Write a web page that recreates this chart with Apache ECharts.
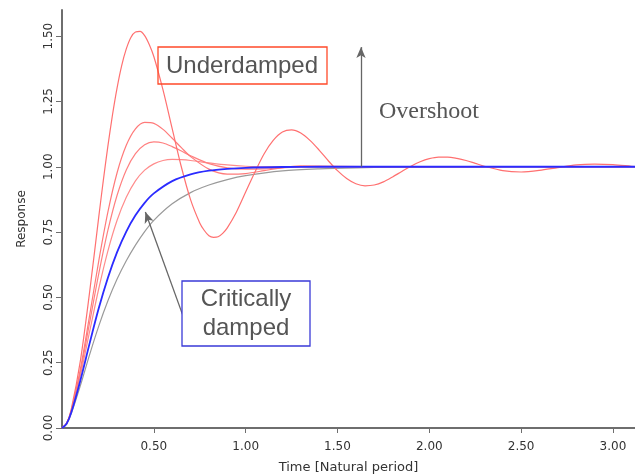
<!DOCTYPE html>
<html>
<head>
<meta charset="utf-8">
<title>Step response</title>
<script src="https://cdn.jsdelivr.net/npm/echarts@6.0.0/dist/echarts.min.js"></script>
<style>
  html, body { margin: 0; padding: 0; background: #fff; }
  #main { width: 635px; height: 474px; }
</style>
</head>
<body>
<div id="main"></div>
<script>
// time axis samples (natural periods)
var tA = [0, 0.025, 0.05, 0.10, 0.15, 0.20, 0.225, 0.25, 0.275, 0.30, 0.325, 0.35, 0.375, 0.40, 0.425, 0.45, 0.475, 0.50, 0.55, 0.60, 0.65, 0.70, 0.75, 0.775, 0.80, 0.825, 0.85, 0.875, 0.90, 0.95,
          1.00, 1.05, 1.10, 1.15, 1.20, 1.25, 1.30, 1.35, 1.40, 1.45, 1.50, 1.55, 1.60, 1.65, 1.70, 1.75, 1.80, 1.85, 1.90, 1.95,
          2.00, 2.05, 2.10, 2.15, 2.20, 2.25, 2.30, 2.40, 2.50, 2.60, 2.70, 2.80, 2.90, 3.00, 3.10, 3.12];
// most underdamped (big overshoot)
var under1 = [0, 0.018, 0.070, 0.257, 0.518, 0.807, 0.948, 1.080, 1.199, 1.302, 1.387, 1.451, 1.495, 1.516, 1.518, 1.502, 1.468, 1.422, 1.294, 1.146, 0.999, 0.874, 0.785, 0.756, 0.736, 0.730, 0.732, 0.745, 0.766, 0.827,
              0.903, 0.979, 1.049, 1.101, 1.133, 1.141, 1.129, 1.101, 1.064, 1.023, 0.985, 0.955, 0.935, 0.927, 0.930, 0.942, 0.961, 0.982, 1.002, 1.019,
              1.031, 1.037, 1.037, 1.032, 1.024, 1.013, 1.002, 0.985, 0.980, 0.986, 0.997, 1.007, 1.010, 1.008, 1.002, 1.001];

var tB = [0, 0.025, 0.05, 0.10, 0.15, 0.20, 0.25, 0.30, 0.35, 0.40, 0.45, 0.50, 0.55, 0.60, 0.65, 0.70, 0.80, 0.90, 1.00, 1.10, 1.20, 1.30, 1.50, 1.80, 2.20, 2.60, 3.00, 3.12];
var under2 = [0, 0.017, 0.065, 0.225, 0.429, 0.639, 0.827, 0.977, 1.082, 1.145, 1.170, 1.166, 1.143, 1.109, 1.073, 1.039, 0.991, 0.972, 0.974, 0.985, 0.997, 1.003, 1.002, 1.000, 1.000, 1.000, 1.000, 1.000];
var under3 = [0, 0.017, 0.064, 0.214, 0.402, 0.590, 0.757, 0.891, 0.988, 1.050, 1.084, 1.095, 1.091, 1.077, 1.060, 1.042, 1.012, 0.996, 0.991, 0.992, 0.996, 0.999, 1.000, 1.000, 1.000, 1.000, 1.000, 1.000];
var under4 = [0, 0.017, 0.062, 0.201, 0.368, 0.533, 0.678, 0.795, 0.883, 0.946, 0.987, 1.011, 1.024, 1.028, 1.027, 1.024, 1.015, 1.007, 1.002, 1.000, 1.000, 1.000, 1.000, 1.000, 1.000, 1.000, 1.000, 1.000];

var tC = [0, 0.025, 0.05, 0.10, 0.15, 0.20, 0.25, 0.30, 0.35, 0.40, 0.45, 0.50, 0.60, 0.70, 0.80, 0.90, 1.00, 1.20, 1.40, 1.60, 1.80, 2.00, 2.40, 2.80, 3.12];
var critical = [0, 0.016, 0.058, 0.182, 0.323, 0.458, 0.575, 0.673, 0.752, 0.814, 0.862, 0.898, 0.945, 0.971, 0.985, 0.992, 0.996, 0.999, 1.000, 1.000, 1.000, 1.000, 1.000, 1.000, 1.000];
var over = [0, 0.016, 0.054, 0.162, 0.280, 0.390, 0.487, 0.570, 0.640, 0.700, 0.752, 0.795, 0.858, 0.901, 0.930, 0.951, 0.966, 0.984, 0.992, 0.996, 0.998, 0.999, 1.000, 1.000, 1.000];

var xTicks = [0.5, 1.0, 1.5, 2.0, 2.5, 3.0];
var yTicks = [0, 0.25, 0.5, 0.75, 1.0, 1.25, 1.5];

// annotation arrows, in data units: [from, to]
var overshootArrow = [[1.628, 1.0], [1.628, 1.458]];
var criticalArrow = [[0.656, 0.435], [0.454, 0.827]];

function pairs(t, v) {
    return t.map(function (x, i) { return [x, v[i]]; });
}

var ec = echarts.init(document.getElementById('main'));
var axisCol = '#6e6e6e';
var lblFont = 'DejaVu Sans';

function curve(name, t, v, col, w) {
    return {
        name: name, type: 'line', showSymbol: false, smooth: 0.3,
        data: pairs(t, v),
        lineStyle: { color: col, width: w }
    };
}

var critSeries = curve('critical', tC, critical, '#2b2bff', 1.8);
critSeries.markLine = {
    silent: true,
    symbol: ['none', 'arrow'],
    symbolSize: [7, 11],
    label: { show: false },
    lineStyle: { color: '#666', width: 1.3, type: 'solid' },
    data: [
        [{ coord: overshootArrow[0] }, { coord: overshootArrow[1] }],
        [{ coord: criticalArrow[0] }, { coord: criticalArrow[1] }]
    ]
};

ec.setOption({
    animation: false,
    grid: { left: 62, right: 0, top: 10, bottom: 46, outerBoundsMode: 'none', containLabel: false },
    xAxis: {
        type: 'value',
        min: 0,
        max: 3.12,
        name: 'Time [Natural period]',
        nameLocation: 'middle',
        nameGap: 33,
        nameTextStyle: { fontFamily: lblFont, fontSize: 13, color: '#333' },
        splitLine: { show: false },
        axisLine: { onZero: false, lineStyle: { color: axisCol, width: 2 } },
        axisTick: { customValues: xTicks, length: 5, lineStyle: { color: axisCol } },
        axisLabel: {
            customValues: xTicks, margin: 13,
            fontFamily: lblFont, fontSize: 12, color: '#333',
            formatter: function (v) { return v.toFixed(2); }
        }
    },
    yAxis: {
        type: 'value',
        min: 0,
        max: 1.6,
        name: 'Response',
        nameLocation: 'middle',
        nameGap: 34,
        nameRotate: 90,
        nameTextStyle: { fontFamily: lblFont, fontSize: 12, color: '#333' },
        splitLine: { show: false },
        axisLine: { show: true, lineStyle: { color: axisCol, width: 2 } },
        axisTick: { customValues: yTicks, length: 6, lineStyle: { color: axisCol } },
        axisLabel: {
            customValues: yTicks, rotate: 90, margin: 7,
            fontFamily: lblFont, fontSize: 12, color: '#333',
            formatter: function (v) { return v.toFixed(2); }
        }
    },
    series: [
        curve('overdamped', tC, over, '#9a9a9a', 1.2),
        curve('zeta4', tB, under4, '#ff8c8c', 1.2),
        curve('zeta3', tB, under3, '#ff8080', 1.2),
        curve('zeta2', tB, under2, '#ff7a7a', 1.2),
        curve('zeta1', tA, under1, '#ff7070', 1.2),
        critSeries
    ],
    graphic: [
        {
            type: 'rect', shape: { x: 158, y: 47, width: 169, height: 37 },
            style: { fill: 'none', stroke: '#ff4a2a', lineWidth: 1.3 }, z: 10
        },
        {
            type: 'text', x: 242, y: 66, z: 11,
            style: { text: 'Underdamped', fontFamily: 'Liberation Sans', fontSize: 24, fill: '#555',
                     align: 'center', verticalAlign: 'middle' }
        },
        {
            type: 'text', x: 429, y: 112, z: 11,
            style: { text: 'Overshoot', fontFamily: 'Liberation Serif', fontSize: 24, fill: '#555',
                     align: 'center', verticalAlign: 'middle' }
        },
        {
            type: 'rect', shape: { x: 182, y: 281, width: 128, height: 65 },
            style: { fill: '#fff', stroke: '#3a3ad8', lineWidth: 1.3 }, z: 10
        },
        {
            type: 'text', x: 246, y: 314, z: 11,
            style: { text: 'Critically\ndamped', fontFamily: 'Liberation Sans', fontSize: 24, lineHeight: 29,
                     fill: '#555', align: 'center', verticalAlign: 'middle' }
        }
    ]
});
</script>
</body>
</html>
